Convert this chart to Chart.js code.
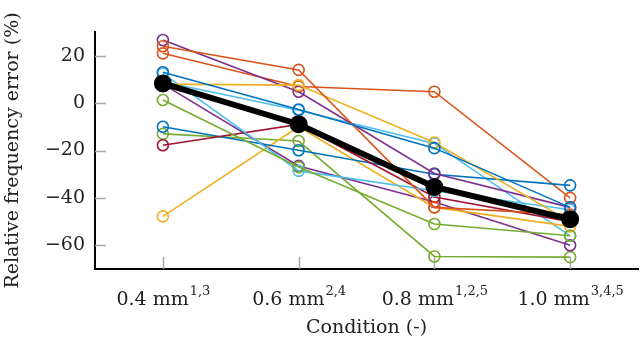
<!DOCTYPE html>
<html>
<head>
<meta charset="utf-8">
<script src="https://cdn.jsdelivr.net/npm/chart.js@4.4.0/dist/chart.umd.min.js"></script>
<style>
html, body { margin: 0; padding: 0; background: #fff; }
#wrap { width: 640px; height: 343px; }
</style>
</head>
<body>
<div id="wrap"><canvas id="chart" width="640" height="343"></canvas></div>
<script>
// categories and superscripts shown after each label
const conditions = ['0.4 mm', '0.6 mm', '0.8 mm', '1.0 mm'];
const conditionMarks = ['1,3', '2,4', '1,2,5', '3,4,5'];
const yTickValues = [-60, -40, -20, 0, 20];

// per-subject relative frequency error (%)
const blue1 = [13, -2.7, -19, -44];
const orange1 = [24, 14, -44, -47];
const yellow1 = [8, 7.6, -16.6, -50];
const purple1 = [26.6, 4.8, -29.7, -44];
const green1 = [1.3, -27, -51, -56];
const lightblue1 = [12.5, -28.6, -37, -45];
const red1 = [-17.8, -9, -39.6, -50];
const blue2 = [-10, -19.9, -30, -34.7];
const orange2 = [21, 7, 4.8, -40];
const yellow2 = [-47.8, -10, -44, -52];
const purple2 = [8, -26.5, -41.7, -60];
const green2 = [-13, -16, -64.7, -65];
const lightblue2 = [9, -3, -17, -56];
const meanError = [8.3, -8.9, -35.4, -49];

const subjects = [
    [blue1, '#0072BD'], [orange1, '#D95319'], [yellow1, '#EDB120'], [purple1, '#7E2F8E'],
    [green1, '#77AC30'], [lightblue1, '#4DBEEE'], [red1, '#A2142F'], [blue2, '#0072BD'],
    [orange2, '#D95319'], [yellow2, '#EDB120'], [purple2, '#7E2F8E'], [green2, '#77AC30'],
    [lightblue2, '#4DBEEE']
];

const serif = "'DejaVu Serif', 'Liberation Serif', serif";

const datasets = subjects.map(([vals, color]) => ({
    data: vals,
    borderColor: color,
    backgroundColor: 'transparent',
    borderWidth: 1.6,
    pointRadius: 5.5,
    pointBorderWidth: 1.6,
    pointBackgroundColor: 'transparent',
    pointBorderColor: color,
    order: 1
}));
datasets.push({
    data: meanError,
    borderColor: '#000',
    backgroundColor: '#000',
    borderWidth: 6,
    pointRadius: 6,
    pointBackgroundColor: '#000',
    pointBorderColor: '#000',
    order: 0
});

// grey inner tick marks
const innerTicks = {
    id: 'innerTicks',
    beforeDatasetsDraw(chart) {
        const ctx = chart.ctx;
        const area = chart.chartArea;
        const y = chart.scales.y;
        const x = chart.scales.x;
        ctx.save();
        ctx.strokeStyle = '#a8a8a8';
        ctx.lineWidth = 1.5;
        yTickValues.forEach(v => {
            const py = Math.round(y.getPixelForValue(v)) + 0.5;
            ctx.beginPath();
            ctx.moveTo(area.left, py);
            ctx.lineTo(area.left + 11, py);
            ctx.stroke();
        });
        conditions.forEach((_, i) => {
            const px = Math.round(x.getPixelForTick(i)) + 0.5;
            ctx.beginPath();
            ctx.moveTo(px, area.bottom);
            ctx.lineTo(px, area.bottom - 12);
            ctx.stroke();
        });
        ctx.restore();
    }
};

// x labels with superscripts
const supLabels = {
    id: 'supLabels',
    afterDraw(chart) {
        const ctx = chart.ctx;
        const x = chart.scales.x;
        const base = 305;
        ctx.save();
        ctx.fillStyle = '#222';
        ctx.textBaseline = 'alphabetic';
        ctx.textAlign = 'left';
        conditions.forEach((label, i) => {
            ctx.font = '19px ' + serif;
            const w1 = ctx.measureText(label).width;
            ctx.font = '13px ' + serif;
            const w2 = ctx.measureText(conditionMarks[i]).width;
            const start = x.getPixelForTick(i) - (w1 + w2) / 2;
            ctx.font = '19px ' + serif;
            ctx.fillText(label, start, base);
            ctx.font = '13px ' + serif;
            ctx.fillText(conditionMarks[i], start + w1 + 1, base - 10);
        });
        ctx.restore();
    }
};

new Chart(document.getElementById('chart'), {
    type: 'line',
    data: { labels: conditions, datasets: datasets },
    options: {
        responsive: false,
        animation: false,
        layout: { autoPadding: false, padding: { top: 32, right: 2, left: 0, bottom: 0 } },
        plugins: { legend: { display: false }, tooltip: { enabled: false } },
        scales: {
            x: {
                offset: true,
                grid: { drawOnChartArea: false, drawTicks: false },
                border: { color: '#000', width: 2 },
                ticks: { display: false },
                title: {
                    display: true,
                    text: 'Condition (-)',
                    color: '#222',
                    font: { family: serif, size: 19 },
                    padding: { top: 0, bottom: 4 }
                },
                afterFit(scale) { scale.height = 74; }
            },
            y: {
                min: -70,
                max: 30,
                grid: { drawOnChartArea: false, drawTicks: false },
                border: { color: '#000', width: 2 },
                afterBuildTicks(scale) { scale.ticks = yTickValues.map(v => ({ value: v })); },
                ticks: {
                    padding: 10,
                    color: '#222',
                    font: { family: serif, size: 19 },
                    callback: v => String(v).replace('-', '\u2212')
                },
                title: {
                    display: true,
                    text: 'Relative frequency error (%)',
                    color: '#222',
                    font: { family: serif, size: 19 },
                    padding: { top: 2, bottom: 0 }
                },
                afterFit(scale) { scale.width = 95; }
            }
        }
    },
    plugins: [innerTicks, supLabels]
});
</script>
</body>
</html>
